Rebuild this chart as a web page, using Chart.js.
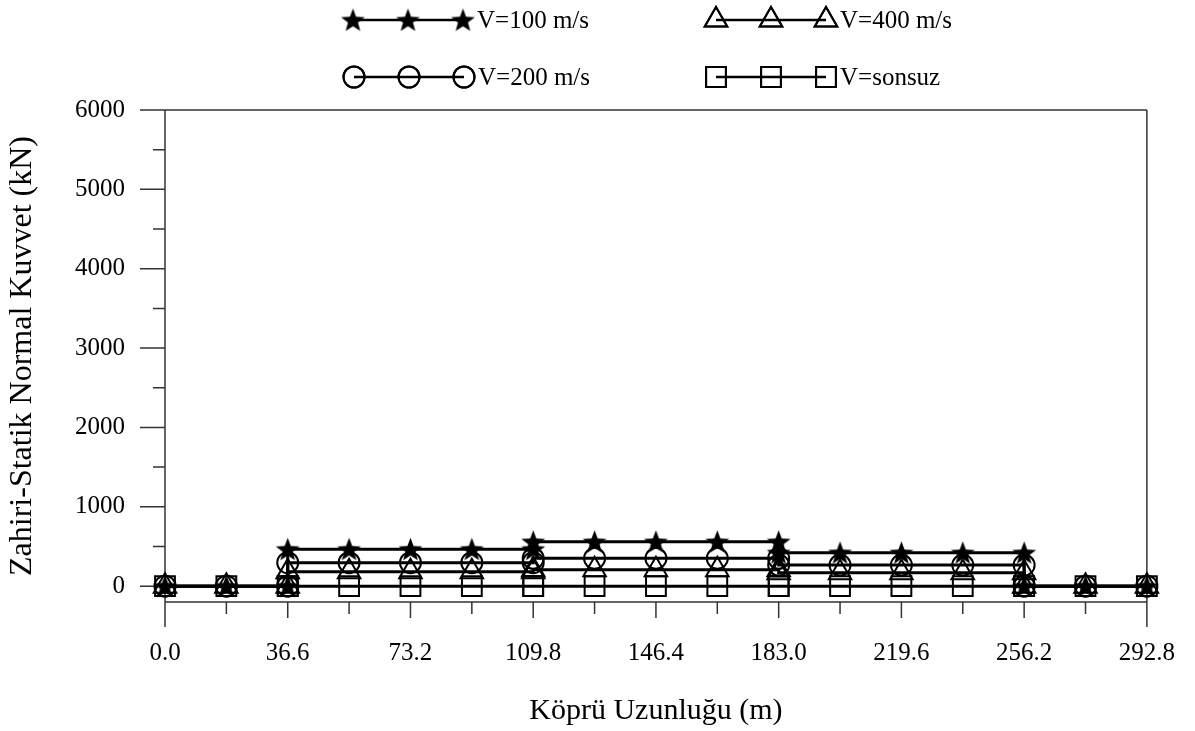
<!DOCTYPE html>
<html>
<head>
<meta charset="utf-8">
<script src="https://cdn.jsdelivr.net/npm/chart.js@4.4.1/dist/chart.umd.min.js"></script>
<style>
    html, body { margin: 0; padding: 0; background: #fff; }
    #wrap { width: 1195px; height: 731px; position: relative; }
</style>
</head>
<body>
<div id="wrap"><canvas id="chart" width="1195" height="731"></canvas></div>
<script>
// Station positions along the bridge (m); repeated x = jump in the force
const stationX = [0, 18.3, 36.6, 36.6, 54.9, 73.2, 91.5, 109.8, 109.8, 128.1, 146.4, 164.7,
    183.0, 183.0, 201.3, 219.6, 237.9, 256.2, 256.2, 274.5, 292.8];

// Normal force (kN) for each speed
const v100 = [0, 0, 0, 465, 465, 465, 465, 465, 560, 560, 560, 560, 560, 420, 420, 420, 420, 420, 0, 0, 0];
const v200 = [0, 0, 0, 295, 295, 295, 295, 295, 350, 350, 350, 350, 350, 265, 265, 265, 265, 265, 0, 0, 0];
const v400 = [0, 0, 0, 180, 180, 180, 180, 180, 205, 205, 205, 205, 205, 170, 170, 170, 170, 170, 0, 0, 0];
const vInf = [0, 0, 0, 0, 0, 0, 0, 0, 0, 0, 0, 0, 0, 0, 0, 0, 0, 0, 0, 0, 0];

const seriesLabels = ['V=100 m/s', 'V=200 m/s', 'V=400 m/s', 'V=sonsuz'];

// Axis ticks
const xMajorTicks = [0, 36.6, 73.2, 109.8, 146.4, 183.0, 219.6, 256.2, 292.8];
const xMinorTicks = [18.3, 54.9, 91.5, 128.1, 164.7, 201.3, 237.9, 274.5];
const yMajorTicks = [0, 1000, 2000, 3000, 4000, 5000, 6000];
const yMinorTicks = [500, 1500, 2500, 3500, 4500, 5500];

const FONT = "'Liberation Serif', 'Times New Roman', serif";

// Filled five-point star marker
const makeStar = (size) => {
    const c = document.createElement('canvas');
    c.width = size; c.height = size;
    const g = c.getContext('2d');
    const cx = size / 2, cy = size / 2 + 1, R = size / 2 - 1, r = R * 0.42;
    g.beginPath();
    for (let i = 0; i < 10; i++) {
        const rad = i % 2 === 0 ? R : r;
        const a = -Math.PI / 2 + i * Math.PI / 5;
        g.lineTo(cx + rad * Math.cos(a), cy + rad * Math.sin(a));
    }
    g.closePath();
    g.fillStyle = '#000';
    g.fill();
    return c;
};
const starImg = makeStar(27);

const toPoints = (vals) => vals.map((v, i) => ({ x: stationX[i], y: v }));

const styles = [
    { pointStyle: starImg, radius: 12, borderWidth: 0 },
    { pointStyle: 'circle', radius: 10.5, borderWidth: 2 },
    { pointStyle: 'triangle', radius: 13, borderWidth: 2 },
    { pointStyle: 'rect', radius: 14, borderWidth: 2 }
];
const seriesData = [v100, v200, v400, vInf];

const datasets = seriesData.map((vals, i) => ({
    label: seriesLabels[i],
    data: toPoints(vals),
    borderColor: '#000',
    borderWidth: 3,
    backgroundColor: 'rgba(0,0,0,0)',
    pointStyle: styles[i].pointStyle,
    pointRadius: styles[i].radius,
    pointBorderWidth: styles[i].borderWidth,
    pointBorderColor: '#000',
    pointBackgroundColor: 'rgba(0,0,0,0)',
    tension: 0,
    clip: false
}));

// Frame, outward ticks and the custom legend
const framePlugin = {
    id: 'frame',
    beforeDatasetsDraw(chart) {
        const { ctx, chartArea: a, scales: { x, y } } = chart;
        ctx.save();
        ctx.strokeStyle = '#333';
        ctx.lineWidth = 1.5;
        ctx.beginPath();
        ctx.moveTo(a.left, a.top); ctx.lineTo(a.right, a.top);
        ctx.moveTo(a.left, a.bottom); ctx.lineTo(a.right, a.bottom);
        ctx.moveTo(a.left, a.top); ctx.lineTo(a.left, a.bottom + 25);
        ctx.moveTo(a.right, a.top); ctx.lineTo(a.right, a.bottom + 25);
        xMajorTicks.forEach(v => { const px = x.getPixelForValue(v); ctx.moveTo(px, a.bottom); ctx.lineTo(px, a.bottom + 16); });
        xMinorTicks.forEach(v => { const px = x.getPixelForValue(v); ctx.moveTo(px, a.bottom); ctx.lineTo(px, a.bottom + 12); });
        yMajorTicks.forEach(v => { const py = y.getPixelForValue(v); ctx.moveTo(a.left - 25, py); ctx.lineTo(a.left, py); });
        yMinorTicks.forEach(v => { const py = y.getPixelForValue(v); ctx.moveTo(a.left - 12, py); ctx.lineTo(a.left, py); });
        ctx.stroke();
        ctx.restore();
    },
    afterDraw(chart) {
        const ctx = chart.ctx;
        const spots = [
            { x: 353, y: 20 }, { x: 354, y: 77 },
            { x: 716, y: 20 }, { x: 716, y: 77 }
        ];
        ctx.save();
        spots.forEach((s, i) => {
            ctx.strokeStyle = '#000';
            ctx.lineWidth = 2.5;
            ctx.beginPath();
            ctx.moveTo(s.x, s.y); ctx.lineTo(s.x + 110, s.y);
            ctx.stroke();
            [0, 55, 110].forEach(dx => {
                ctx.strokeStyle = '#000';
                ctx.fillStyle = 'rgba(0,0,0,0)';
                ctx.lineWidth = styles[i].borderWidth || 1;
                Chart.helpers.drawPoint(ctx, {
                    pointStyle: styles[i].pointStyle,
                    radius: styles[i].radius,
                    borderWidth: styles[i].borderWidth,
                    rotation: 0
                }, s.x + dx, s.y);
                if (styles[i].borderWidth) ctx.stroke();
            });
            ctx.fillStyle = '#000';
            ctx.font = '25px ' + FONT;
            ctx.textBaseline = 'middle';
            ctx.textAlign = 'left';
            ctx.fillText(seriesLabels[i], s.x + 124, s.y + 1);
        });
        ctx.restore();
    }
};

const ctx = document.getElementById('chart').getContext('2d');
window.bridgeChart = new Chart(ctx, {
    type: 'line',
    data: { datasets },
    options: {
        responsive: false,
        animation: false,
        layout: { padding: { top: 110, right: 47, left: 0, bottom: 0 } },
        plugins: { legend: { display: false }, tooltip: { enabled: false } },
        scales: {
            x: {
                type: 'linear',
                min: 0,
                max: 292.8,
                afterFit: (scale) => { scale.height = 129; },
                afterBuildTicks: (scale) => {
                    scale.ticks = [...xMajorTicks, ...xMinorTicks].sort((a, b) => a - b).map(v => ({ value: v }));
                },
                grid: { display: true, drawOnChartArea: false, drawTicks: true, tickLength: 16, color: 'rgba(0,0,0,0)' },
                border: { display: false },
                ticks: {
                    autoSkip: false,
                    maxRotation: 0,
                    padding: 20,
                    color: '#000',
                    font: { family: FONT, size: 25 },
                    callback: (value) => xMajorTicks.includes(value) ? value.toFixed(1) : ''
                },
                title: {
                    display: true,
                    text: 'Köprü Uzunluğu (m)',
                    color: '#000',
                    font: { family: FONT, size: 30 },
                    padding: { top: 0, bottom: 2 }
                }
            },
            y: {
                type: 'linear',
                min: -200,
                max: 6000,
                afterFit: (scale) => { scale.width = 165; },
                afterBuildTicks: (scale) => {
                    scale.ticks = [...yMajorTicks, ...yMinorTicks].sort((a, b) => a - b).map(v => ({ value: v }));
                },
                grid: { display: true, drawOnChartArea: false, drawTicks: true, tickLength: 25, color: 'rgba(0,0,0,0)' },
                border: { display: false },
                ticks: {
                    autoSkip: false,
                    padding: 15,
                    color: '#000',
                    font: { family: FONT, size: 25 },
                    callback: (value) => yMajorTicks.includes(value) ? String(value) : ''
                },
                title: {
                    display: true,
                    text: 'Zahiri-Statik Normal Kuvvet (kN)',
                    color: '#000',
                    font: { family: FONT, size: 32 },
                    padding: { top: 3, bottom: 0 }
                }
            }
        }
    },
    plugins: [framePlugin]
});
</script>
</body>
</html>
